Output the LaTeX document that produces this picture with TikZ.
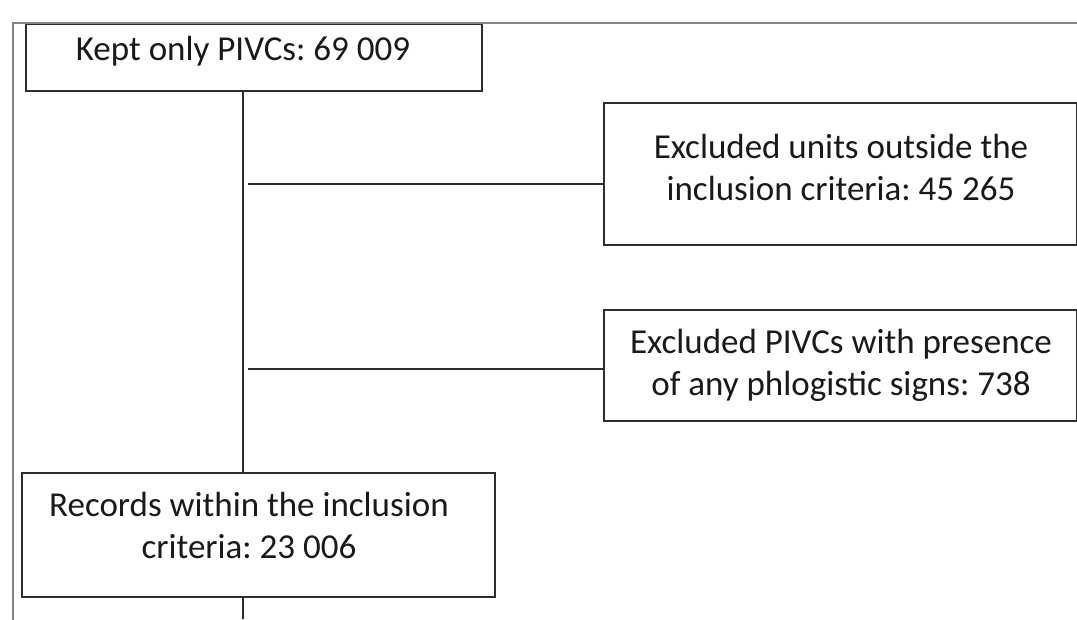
\documentclass[tikz,border=0pt]{standalone}
\usepackage{fontspec}
\setmainfont{Carlito}
\frenchspacing
\begin{document}
\begin{tikzpicture}[x=1pt,y=-1pt,
  box/.style={draw=boxcol,line width=2pt,rectangle,inner sep=0pt,anchor=north west},
  txt/.style={text=black!90,font=\fontsize{35}{42}\selectfont\frenchspacing,align=center,inner sep=0pt,anchor=base},
  conn/.style={draw=boxcol,line width=2pt}]
\definecolor{boxcol}{HTML}{2E2E2E}
\definecolor{framecol}{HTML}{858585}
\fill[white] (0,0) rectangle (1077,619);
\useasboundingbox (0,0) rectangle (1077,619);
% boxes
\node[box,minimum width=456pt,minimum height=67pt] (kept) at (25,23) {};
\node[box,minimum width=473pt,minimum height=142pt] (exc1) at (603,102) {};
\node[box,minimum width=473pt,minimum height=111pt] (exc2) at (603,309) {};
\node[box,minimum width=473pt,minimum height=124pt] (rec) at (21,472) {};
% texts (base anchor = baseline of last line)
\node[txt] (keptT) at (243,60) {Kept only PIVCs: 69 009};
\node[txt] (exc1T) at (841,200) {Excluded units outside the\\inclusion criteria: 45 265};
\node[txt] (exc2T) at (841,395) {Excluded PIVCs with presence\\of any phlogistic signs: 738};
\node[txt] (recT) at (249,558) {Records within the inclusion\\criteria: 23 006};
% connectors
\coordinate (trunk) at (243,0);
\coordinate (b1) at (248,184);
\coordinate (b2) at (248,369);
\coordinate (tail) at (243,619);
\draw[conn] (trunk |- kept.south) -- (trunk |- rec.north);
\draw[conn] (b1) -- (b1 -| exc1.west);
\draw[conn] (b2) -- (b2 -| exc2.west);
\draw[conn] (trunk |- rec.south) -- (tail);
% frame
\draw[framecol,line width=2.4pt] (1080,23) -- (13,23) -- (13,622);
\end{tikzpicture}
\end{document}
